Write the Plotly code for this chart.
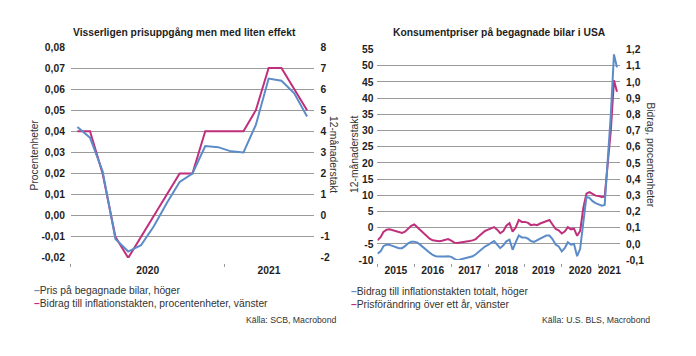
import plotly.graph_objects as go
import pandas as pd

W, H = 696, 356

# ---------------- Left chart: Sweden ----------------
se_months = pd.period_range("2020-01", "2021-07", freq="M").strftime("%Y-%m").tolist()
# Pris på begagnade bilar, 12-månaderstakt (höger axel)
se_used_car_price = [4.2, 3.7, 2.1, -1.1, -1.7, -1.4, -0.5, 0.6, 1.6, 2.0,
                     3.3, 3.25, 3.05, 3.0, 4.3, 6.5, 6.4, 5.8, 4.7]
# Bidrag till inflationstakten, procentenheter (vänster axel)
se_contribution = [0.04, 0.04, 0.02, -0.01, -0.02, -0.01, 0.00, 0.01, 0.02, 0.02,
                   0.04, 0.04, 0.04, 0.04, 0.05, 0.07, 0.07, 0.06, 0.05]
se_left_ticks = [-0.02, -0.01, 0.0, 0.01, 0.02, 0.03, 0.04, 0.05, 0.06, 0.07, 0.08]
se_left_text = ["-0,02", "-0,01", "0,00", "0,01", "0,02", "0,03", "0,04", "0,05", "0,06", "0,07", "0,08"]
se_right_ticks = [-2, -1, 0, 1, 2, 3, 4, 5, 6, 7, 8]
se_years = ["2020", "2021"]

# ---------------- Right chart: USA ----------------
us_months = pd.period_range("2015-01", "2021-07", freq="M").strftime("%Y-%m").tolist()
# Prisförändring över ett år (vänster axel)
us_yoy = [-3.9, -2.9, -1.3, -0.6, -0.5, -0.8, -1.1, -1.4, -1.6, -1.2,
          -0.4, 0.6, 1.0, 0.1, -0.9, -1.8, -2.8, -3.4, -3.9, -4.1,
          -4.2, -4.0, -3.8, -3.5, -4.0, -4.6, -4.7, -4.6, -4.5, -4.3,
          -4.1, -3.9, -3.5, -2.6, -1.7, -1.0, -0.6, -0.1, 0.2, -0.6,
          -1.7, -1.0, 0.6, 1.4, -1.2, 0.0, 2.4, 1.8, 1.8, 1.5,
          0.8, 1.0, 0.8, 1.3, 1.7, 2.1, 2.4, 1.0, -0.4, -0.8,
          -1.8, -1.1, 0.2, -0.5, -0.3, -2.5, -1.0, 6.0, 10.5, 11.0,
          10.3, 9.9, 9.8, 9.5, 9.6, 21.0, 30.0, 45.5, 42.0]
# Bidrag till inflationstakten totalt (höger axel)
us_contribution = [-0.060, -0.046, -0.014, -0.004, -0.006, -0.012, -0.020, -0.026, -0.026, -0.014,
                   0.004, 0.014, 0.014, 0.008, -0.006, -0.024, -0.040, -0.054, -0.068, -0.076,
                   -0.078, -0.080, -0.078, -0.076, -0.080, -0.092, -0.100, -0.096, -0.092, -0.088,
                   -0.082, -0.076, -0.064, -0.048, -0.030, -0.016, -0.006, 0.006, 0.018, -0.004,
                   -0.026, -0.008, 0.016, 0.026, -0.036, 0.010, 0.052, 0.040, 0.040, 0.032,
                   0.018, 0.012, 0.020, 0.032, 0.042, 0.052, 0.052, 0.030, -0.004, -0.016,
                   -0.046, -0.024, 0.010, -0.004, 0.000, -0.076, -0.030, 0.130, 0.290, 0.284,
                   0.264, 0.252, 0.244, 0.236, 0.240, 0.50, 0.80, 1.17, 1.09]
us_left_ticks = [-10, -5, 0, 5, 10, 15, 20, 25, 30, 35, 40, 45, 50, 55]
us_right_ticks = [-0.1, 0.0, 0.1, 0.2, 0.3, 0.4, 0.5, 0.6, 0.7, 0.8, 0.9, 1.0, 1.1, 1.2]
us_right_text = ["-0,1", "0,0", "0,1", "0,2", "0,3", "0,4", "0,5", "0,6", "0,7", "0,8", "0,9", "1,0", "1,1", "1,2"]
us_years = ["2015", "2016", "2017", "2018", "2019", "2020", "2021"]

BLUE = "#5b8cc8"
PINK = "#bf2f7b"
GRID = "#9a9a9a"
TXT = "#1e1e1e"
FONT = "Liberation Sans, Arial, sans-serif"
FS = 10.3


def px(x):
    return x / W


def py(y):
    return (H - y) / H


def year_marks(years, range_end):
    starts = [pd.Timestamp(f"{y}-01-01") for y in years]
    ends = starts[1:] + [min(pd.Timestamp(f"{int(years[-1]) + 1}-01-01"), pd.Timestamp(range_end))]
    mids = [s + (e - s) / 2 for s, e in zip(starts, ends)]
    return [s.strftime("%Y-%m-%d") for s in starts], [m.strftime("%Y-%m-%d %H:%M") for m in mids]


se_range = ["2020-01-01", "2021-08-01"]
us_range = ["2015-01-01", "2021-08-01"]
se_starts, se_mids = year_marks(se_years, se_range[1])
us_starts, us_mids = year_marks(us_years, us_range[1])

fig = go.Figure()

# Left chart traces
fig.add_trace(go.Scatter(x=se_months, y=se_contribution, xperiod="M1", xperiodalignment="middle",
                         mode="lines", line=dict(color=PINK, width=2), xaxis="x", yaxis="y",
                         name="Bidrag till inflationstakten, procentenheter, vänster"))
fig.add_trace(go.Scatter(x=se_months, y=se_used_car_price, xperiod="M1", xperiodalignment="middle",
                         mode="lines", line=dict(color=BLUE, width=2), xaxis="x", yaxis="y2",
                         name="Pris på begagnade bilar, höger"))
# Right chart traces
fig.add_trace(go.Scatter(x=us_months, y=us_yoy, mode="lines", line=dict(color=PINK, width=2),
                         xaxis="x2", yaxis="y3", name="Prisförändring över ett år, vänster"))
fig.add_trace(go.Scatter(x=us_months, y=us_contribution, mode="lines", line=dict(color=BLUE, width=2),
                         xaxis="x2", yaxis="y4", name="Bidrag till inflationstakten totalt, höger"))

tickfont = dict(family=FONT, size=FS, color=TXT, weight="bold")

xcommon = dict(type="date", anchor="free", position=py(258), showgrid=False, zeroline=False,
               showline=False, ticks="", tickfont=tickfont, tickmode="array", fixedrange=True)

fig.update_layout(
    width=W, height=H, margin=dict(l=0, r=0, t=0, b=0),
    paper_bgcolor="white", plot_bgcolor="white", showlegend=False,
    font=dict(family=FONT, color=TXT),
    xaxis=dict(domain=[px(63), px(306)], range=se_range, tickvals=se_mids, ticktext=se_years,
               minor=dict(tickmode="array", tickvals=se_starts, ticks="outside", ticklen=3,
                          tickcolor=GRID, showgrid=False), **xcommon),
    yaxis=dict(domain=[py(252.7), py(35)], range=[-0.02, 0.08], anchor="x",
               tickmode="array", tickvals=se_left_ticks, ticktext=se_left_text,
               showgrid=True, gridcolor=GRID, gridwidth=1, zeroline=False, showline=False,
               ticks="", ticklabelstandoff=5, tickfont=tickfont),
    yaxis2=dict(overlaying="y", side="right", anchor="x", range=[-2, 8],
                tickmode="array", tickvals=se_right_ticks, ticktext=[str(v) for v in se_right_ticks],
                showgrid=False, zeroline=False, showline=False, ticks="", ticklabelstandoff=6,
                tickfont=tickfont),
    xaxis2=dict(domain=[px(370), px(613)], range=us_range, tickvals=us_mids, ticktext=us_years,
                minor=dict(tickmode="array", tickvals=us_starts, ticks="outside", ticklen=3,
                           tickcolor=GRID, showgrid=False), **xcommon),
    yaxis3=dict(domain=[py(255), py(37.7)], range=[-10, 55], anchor="x2",
                tickmode="array", tickvals=us_left_ticks, ticktext=[str(v) for v in us_left_ticks],
                showgrid=True, gridcolor=GRID, gridwidth=1, zeroline=False, showline=False,
                ticks="", ticklabelstandoff=3, tickfont=tickfont),
    yaxis4=dict(overlaying="y3", side="right", anchor="x2", range=[-0.1, 1.2],
                tickmode="array", tickvals=us_right_ticks, ticktext=us_right_text,
                showgrid=False, zeroline=False, showline=False, ticks="", ticklabelstandoff=5,
                tickfont=tickfont),
)

ann = []


def add_text(text, x, y, size=FS, xanchor="center", yanchor="middle", angle=0, bold=False,
             color=TXT, align="center"):
    ann.append(dict(text=text, x=px(x), y=py(y), xref="paper", yref="paper", showarrow=False,
                    xanchor=xanchor, yanchor=yanchor, textangle=angle, align=align,
                    font=dict(family=FONT, size=size, color=color, weight="bold" if bold else "normal")))


# Titles
add_text("Visserligen prisuppgång men med liten effekt", 177, 20, bold=True)
add_text("Konsumentpriser på begagnade bilar i USA", 492, 20, bold=True)
# Axis titles
add_text("Procentenheter", 27, 146, angle=-90, color="#333333")
add_text("12-månaderstakt", 326, 146, angle=90, color="#333333")
add_text("12-månaderstakt", 347, 146, angle=-90, color="#333333")
add_text("Bidrag, procentenheter", 643, 146, angle=90, color="#333333")


def legend_block(items, x, y_top):
    lines = [f"<span style='color:{c}'><b>–</b></span>{label}" for c, label in items]
    add_text("<br>".join(lines), x, y_top, xanchor="left", yanchor="top", align="left",
             color="#333333")


legend_block([(BLUE, "Pris på begagnade bilar, höger"),
              (PINK, "Bidrag till inflationstakten, procentenheter, vänster")], 24, 279)
legend_block([(BLUE, "Bidrag till inflationstakten totalt, höger"),
              (PINK, "Prisförändring över ett år, vänster")], 341, 280)

# Sources
add_text("Källa: SCB, Macrobond", 330, 317, size=8.7, xanchor="right", color="#333333")
add_text("Källa: U.S. BLS, Macrobond", 645, 317, size=8.7, xanchor="right", color="#333333")

fig.update_layout(annotations=ann)
fig.write_html("out.html")
